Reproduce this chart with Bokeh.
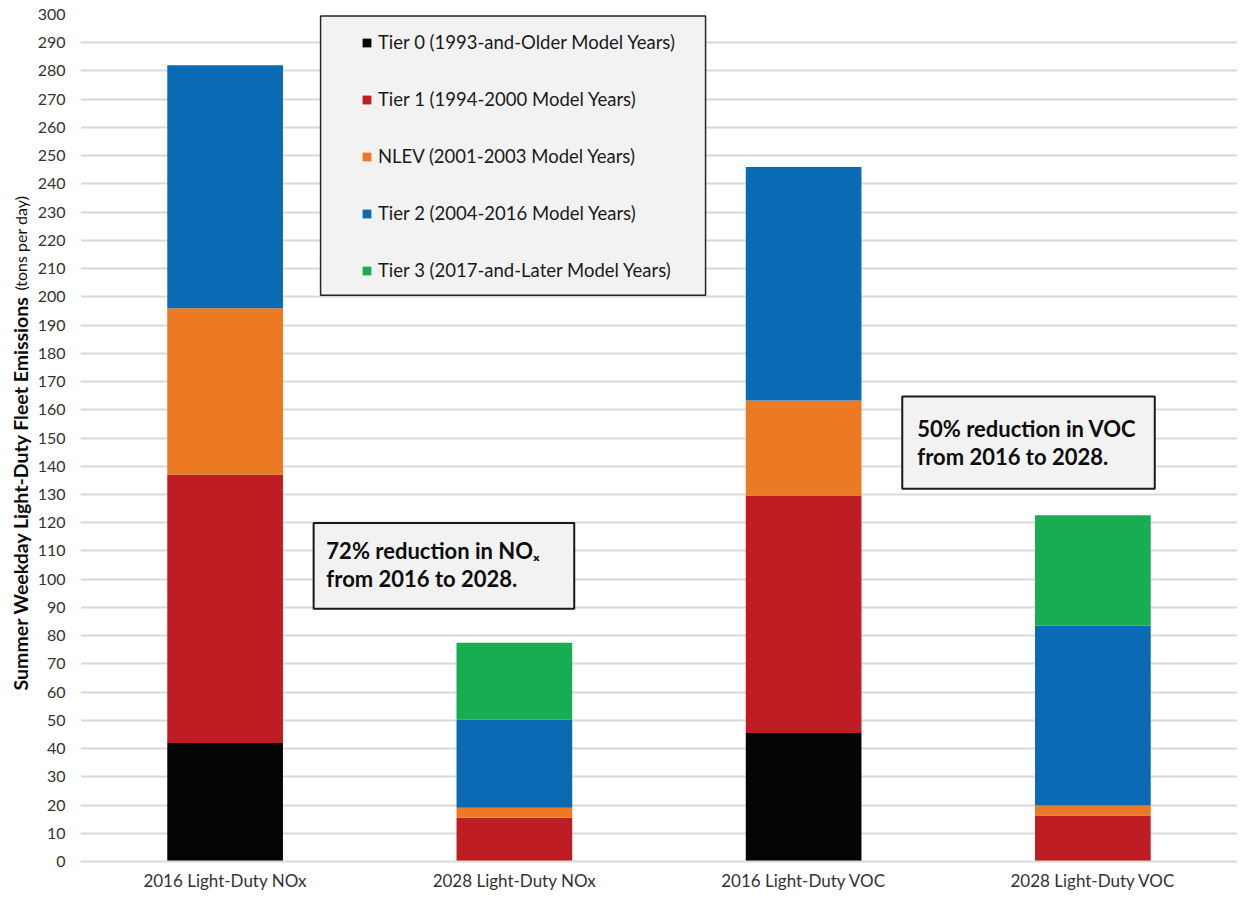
import math
from bokeh.plotting import figure
from bokeh.layouts import row
from bokeh.models import (FactorRange, Range1d, FixedTicker, Legend, LegendItem,
                          BoxAnnotation, Label)
from bokeh.embed import file_html
from bokeh.resources import INLINE

# ---------------- data ----------------
categories = ["2016 Light-Duty NOx", "2028 Light-Duty NOx",
              "2016 Light-Duty VOC", "2028 Light-Duty VOC"]
series_names = ["Tier 0 (1993-and-Older Model Years)",
                "Tier 1 (1994-2000 Model Years)",
                "NLEV (2001-2003 Model Years)",
                "Tier 2 (2004-2016 Model Years)",
                "Tier 3 (2017-and-Later Model Years)"]
tier0 = [42.0, 0.0, 45.5, 0.0]
tier1 = [95.0, 15.5, 84.1, 16.3]
nlev = [59.0, 3.5, 33.7, 3.5]
tier2 = [86.0, 31.2, 82.7, 63.7]
tier3 = [0.0, 27.3, 0.0, 39.1]
colors = ["#050505", "#BE1E23", "#EC7A25", "#0A6AB4", "#16AE50"]
y_ticks = list(range(0, 301, 10))
y_title_bold = "Summer Weekday Light-Duty Fleet Emissions"
y_title_regular = "(tons per day)"
note_nox = ["72% reduction in NO\u2093", "from 2016 to 2028."]
note_voc = ["50% reduction in VOC", "from 2016 to 2028."]

FONT = "Lato"
H = 893
TOP, BOTTOM = 14, 29
LEFT_W = 34
keys = ["t0", "t1", "nlev", "t2", "t3"]
source = dict(cat=categories, t0=tier0, t1=tier1, nlev=nlev, t2=tier2, t3=tier3)

yr = Range1d(0, 300)
p = figure(x_range=FactorRange(*categories), y_range=yr,
           width=1237 - LEFT_W, height=H, output_backend="svg",
           toolbar_location=None,
           min_border_left=75 - LEFT_W, min_border_right=0,
           min_border_top=TOP, min_border_bottom=BOTTOM)
p.outline_line_color = None
p.background_fill_color = "white"
p.border_fill_color = "white"

renderers = p.vbar_stack(keys, x="cat", width=0.4, color=colors,
                         line_color=None, source=source)

# axes
p.yaxis.ticker = FixedTicker(ticks=y_ticks)
p.yaxis.axis_line_color = None
p.yaxis.major_tick_line_color = None
p.yaxis.major_tick_out = 0
p.yaxis.major_tick_in = 0
p.yaxis.minor_tick_line_color = None
p.yaxis.major_label_standoff = 15
p.yaxis.major_label_text_font = FONT
p.yaxis.major_label_text_font_size = "16px"
p.yaxis.major_label_text_color = "#333333"

p.xaxis.axis_line_color = "#d9d9d9"
p.xaxis.axis_line_width = 2
p.xaxis.major_tick_line_color = None
p.xaxis.major_tick_out = 0
p.xaxis.major_tick_in = 0
p.xaxis.minor_tick_line_color = None
p.xaxis.major_label_standoff = 8
p.xaxis.major_label_text_font = FONT
p.xaxis.major_label_text_font_size = "17px"
p.xaxis.major_label_text_color = "#333333"

p.xgrid.grid_line_color = None
p.ygrid.grid_line_color = "#d9d9d9"
p.ygrid.grid_line_width = 2

# legend background box
p.add_layout(BoxAnnotation(left=0.830, right=2.161, top=299.5, bottom=200.6,
                           fill_color="#f2f2f2", fill_alpha=1,
                           line_color="#262626", line_width=1.5, line_alpha=1))
legend = Legend(items=[LegendItem(label=n, renderers=[r])
                       for n, r in zip(series_names, renderers)],
                location=(281, 580), background_fill_alpha=0,
                border_line_color=None, padding=0, margin=0, spacing=35,
                label_height=20, glyph_height=11, glyph_width=11,
                label_standoff=6, label_text_font=FONT,
                label_text_font_size="18.5px", label_text_color="#1a1a1a")
p.add_layout(legend, "center")

# annotation boxes
for (l, r, t, b), (tx, ty1, ty2), lines in [
        ((0.806, 1.707, 119.9, 89.5), (0.850, 110.1, 100.3), note_nox),
        ((2.841, 3.714, 164.7, 132.0), (2.893, 153.4, 143.5), note_voc)]:
    p.add_layout(BoxAnnotation(left=l, right=r, top=t, bottom=b,
                               fill_color="#f2f2f2", fill_alpha=1,
                               line_color="#1a1a1a", line_width=2, line_alpha=1))
    for ty, txt in zip((ty1, ty2), lines):
        p.add_layout(Label(x=tx, y=ty, text=txt, text_align="left",
                           text_baseline="middle", text_font=FONT,
                           text_font_style="bold", text_font_size="22px",
                           text_color="#0d0d0d"))

# narrow strip on the left holding the two-style y-axis title
pt = figure(width=LEFT_W, height=H, x_range=Range1d(0, LEFT_W), y_range=yr,
            output_backend="svg", toolbar_location=None,
            x_axis_location=None, y_axis_location=None,
            min_border_left=0, min_border_right=0,
            min_border_top=TOP, min_border_bottom=BOTTOM)
pt.outline_line_color = None
pt.grid.grid_line_color = None
pt.border_fill_color = "white"
pt.add_layout(Label(x=20, y=200.4, text=y_title_bold, angle=math.pi / 2,
                    text_align="right", text_baseline="middle",
                    text_font=FONT, text_font_style="bold",
                    text_font_size="19.5px", text_color="#0d0d0d"))
pt.add_layout(Label(x=20, y=202.2, text=y_title_regular, angle=math.pi / 2,
                    text_align="left", text_baseline="middle",
                    text_font=FONT, text_font_size="16px", text_color="#0d0d0d"))

layout = row(pt, p)
open("out.html", "w").write(file_html(layout, INLINE))
